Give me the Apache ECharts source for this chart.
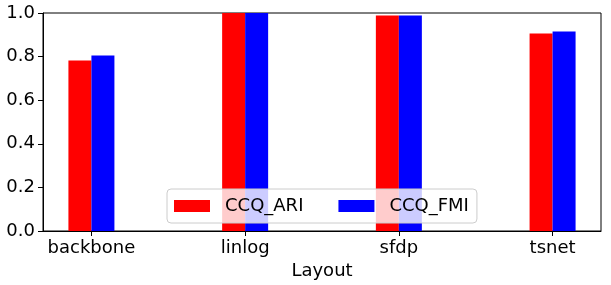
<!DOCTYPE html>
<html>
<head>
<meta charset="utf-8">
<script src="https://cdn.jsdelivr.net/npm/echarts@6/dist/echarts.min.js"></script>
<style>html,body{margin:0;padding:0;background:#fff}#c{width:611px;height:285px}</style>
</head>
<body>
<div id="c"></div>
<script>
const categories = ['backbone', 'linlog', 'sfdp', 'tsnet'];
const ccqARI = [0.782, 1.0, 0.988, 0.906];
const ccqFMI = [0.805, 1.0, 0.988, 0.915];
const yTicks = [0, 0.2, 0.4, 0.6, 0.8, 1.0];

const font = 'DejaVu Sans';
const chart = echarts.init(document.getElementById('c'), null, {renderer: 'canvas'});
const catIdx = categories.map((c, i) => i);
chart.setOption({
  animation: false,
  textStyle: {fontFamily: font},
  grid: {left: 43, right: 10, top: 13, bottom: 54, show: true, borderColor: '#000', borderWidth: 1,
    containLabel: false, outerBoundsMode: 'none'},
  legend: {
    left: 167, top: 189,
    orient: 'horizontal',
    itemWidth: 36, itemHeight: 12, itemGap: 35,
    padding: [8, 8, 8, 7],
    backgroundColor: 'rgba(255,255,255,0.8)',
    borderColor: '#cccccc', borderWidth: 1, borderRadius: 4,
    icon: 'rect',
    textStyle: {fontFamily: font, fontSize: 18, color: '#000', lineHeight: 18, padding: [0, 0, 0, 10]},
    data: ['CCQ_ARI', 'CCQ_FMI']
  },
  xAxis: {
    type: 'value', min: -0.315, max: 3.315,
    name: 'Layout', nameLocation: 'middle', nameGap: 29,
    nameTextStyle: {fontFamily: font, fontSize: 18, color: '#000'},
    splitLine: {show: false},
    axisLine: {show: true, onZero: false, lineStyle: {color: '#000', width: 1}},
    axisTick: {show: true, length: 5, lineStyle: {color: '#000'}, customValues: catIdx},
    axisLabel: {fontFamily: font, fontSize: 18, color: '#000', margin: 8, customValues: catIdx,
      formatter: v => categories[Math.round(v)]}
  },
  yAxis: {
    type: 'value', min: 0, max: 1, interval: 0.2,
    splitLine: {show: false},
    axisLine: {show: true, onZero: false, lineStyle: {color: '#000', width: 1}},
    axisTick: {show: true, length: 5, lineStyle: {color: '#000'}},
    axisLabel: {fontFamily: font, fontSize: 18, color: '#000', margin: 8, formatter: v => v.toFixed(1)}
  },
  series: [
    {name: 'CCQ_ARI', type: 'bar', barWidth: 23, barGap: '0%', itemStyle: {color: '#ff0000'},
      data: categories.map((c, i) => [i, ccqARI[i]])},
    {name: 'CCQ_FMI', type: 'bar', barWidth: 23, barGap: '0%', itemStyle: {color: '#0000ff'},
      data: categories.map((c, i) => [i, ccqFMI[i]])}
  ]
});
</script>
</body>
</html>
